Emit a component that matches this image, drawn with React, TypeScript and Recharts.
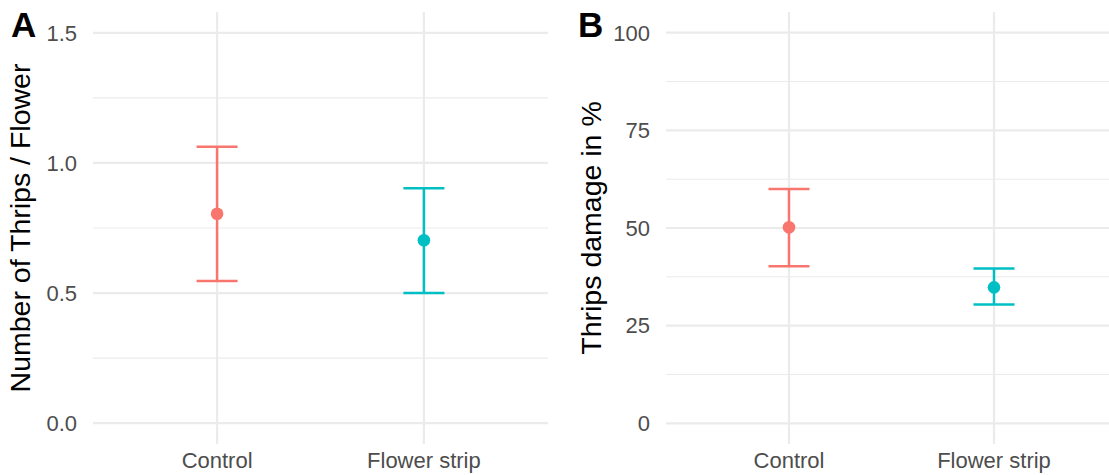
import {
  ScatterChart,
  Scatter,
  XAxis,
  YAxis,
  CartesianGrid,
  ErrorBar,
} from "recharts";

const categories = ["Control", "Flower strip"];
const colors = ["#F8766D", "#00BFC4"];

// panel A: thrips per flower
const thripsMean = [0.805, 0.703];
const thripsLow = [0.546, 0.5];
const thripsHigh = [1.062, 0.903];

// panel B: damage in %
const damageMean = [50.2, 34.8];
const damageLow = [40.2, 30.4];
const damageHigh = [60.0, 39.6];

const thripsTicks = [0, 0.5, 1, 1.5];
const thripsMinor = [0.25, 0.75, 1.25];
const damageTicks = [0, 25, 50, 75, 100];
const damageMinor = [12.5, 37.5, 62.5, 87.5];

const FONT = "'Liberation Sans', Arial, sans-serif";

function rows(mean: number[], low: number[], high: number[]) {
  return categories.map((c, i) => ({
    x: i + 1,
    name: c,
    y: mean[i],
    err: [mean[i] - low[i], high[i] - mean[i]],
  }));
}

interface PanelProps {
  left: number;
  width: number;
  axisWidth: number;
  domain: [number, number];
  ticks: number[];
  minor: number[];
  title: string;
  titleX: number;
  data: any[];
  fmt: (v: number) => string;
}

function Panel({
  left,
  width,
  axisWidth,
  domain,
  ticks,
  minor,
  title,
  titleX,
  data,
  fmt,
}: PanelProps) {
  return (
    <div style={{ position: "absolute", left, top: 0 }}>
      <ScatterChart
        width={width}
        height={475}
        margin={{ top: 12, right: 0, bottom: 0, left: 0 }}
      >
        <CartesianGrid
          stroke="#ebebeb"
          strokeWidth={1.1}
          vertical={false}
          horizontalValues={minor}
        />
        <CartesianGrid
          stroke="#ebebeb"
          strokeWidth={2.2}
          horizontalValues={ticks}
          verticalValues={[1, 2]}
        />
        <XAxis
          type="number"
          dataKey="x"
          domain={[0.4, 2.6]}
          ticks={[1, 2]}
          tickFormatter={(v) => categories[v - 1]}
          axisLine={false}
          tickLine={false}
          tickSize={6}
          tickMargin={2}
          height={31}
          tick={{ fill: "#4d4d4d", fontSize: 22, fontFamily: FONT }}
        />
        <YAxis
          type="number"
          dataKey="y"
          domain={domain}
          ticks={ticks}
          allowDataOverflow
          tickFormatter={fmt}
          axisLine={false}
          tickLine={false}
          tickSize={14}
          tickMargin={2}
          width={axisWidth}
          tick={{ fill: "#4d4d4d", fontSize: 22, fontFamily: FONT }}
          label={{
            content: () => (
              <text
                transform={`translate(${titleX},228) rotate(-90)`}
                textAnchor="middle"
                fontSize={28.5}
                fontFamily={FONT}
                fill="#000"
              >
                {title}
              </text>
            ),
          }}
        />
        {data.map((d, i) => (
          <Scatter
            key={d.name}
            data={[d]}
            isAnimationActive={false}
            shape={(p: any) => (
              <circle cx={p.cx} cy={p.cy} r={6.3} fill={colors[i]} />
            )}
          >
            <ErrorBar
              dataKey="err"
              direction="y"
              width={20.5}
              stroke={colors[i]}
              strokeWidth={2.5}
            />
          </Scatter>
        ))}
      </ScatterChart>
    </div>
  );
}

export default function App() {
  return (
    <div
      style={{
        position: "fixed",
        left: 0,
        top: 0,
        width: 1109,
        height: 475,
        overflow: "hidden",
        background: "#fff",
        fontFamily: FONT,
      }}
    >
      <Panel
        left={0}
        width={548}
        axisWidth={93}
        domain={[-0.08, 1.58]}
        ticks={thripsTicks}
        minor={thripsMinor}
        title="Number of Thrips / Flower"
        titleX={30}
        data={rows(thripsMean, thripsLow, thripsHigh)}
        fmt={(v) => v.toFixed(1)}
      />
      <Panel
        left={560}
        width={557}
        axisWidth={106}
        domain={[-5.3, 105.3]}
        ticks={damageTicks}
        minor={damageMinor}
        title="Thrips damage in %"
        titleX={41}
        data={rows(damageMean, damageLow, damageHigh)}
        fmt={(v) => String(v)}
      />
      <div
        style={{
          position: "absolute",
          left: 11,
          top: 3,
          fontSize: 35,
          fontWeight: 700,
          lineHeight: "44px",
        }}
      >
        A
      </div>
      <div
        style={{
          position: "absolute",
          left: 578,
          top: 3,
          fontSize: 35,
          fontWeight: 700,
          lineHeight: "44px",
        }}
      >
        B
      </div>
    </div>
  );
}
